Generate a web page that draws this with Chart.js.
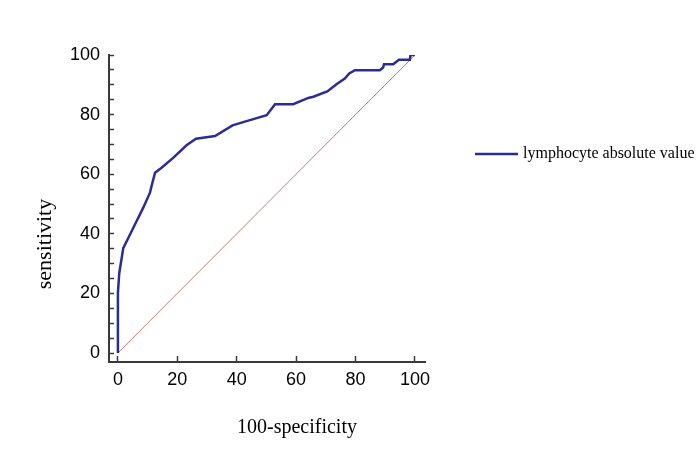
<!DOCTYPE html>
<html>
<head>
<meta charset="utf-8">
<script src="https://cdn.jsdelivr.net/npm/chart.js@4.4.1/dist/chart.umd.min.js"></script>
<style>
  html, body { margin: 0; padding: 0; background: #fff; }
  #wrap { width: 700px; height: 467px; }
</style>
</head>
<body>
<div id="wrap"><canvas id="c" width="700" height="467"></canvas></div>
<script>
// ROC curve data (100-specificity, sensitivity)
const fpr = [0, 0, 0.45, 1.8, 3.5, 6.1, 8.5, 10.8, 11.2, 12.5, 14.7, 18.6, 23.1, 26.3, 32.7, 38.6, 43.3, 50.1, 52.9, 59.0, 64.1, 65.8, 70.5, 73.6, 76.4, 77.9, 79.8, 88.2, 89.3, 89.6, 90.8, 92.7, 94.6, 98.3, 98.5, 100];
const tpr = [0, 20.1, 26.8, 35.2, 38.6, 43.9, 48.7, 53.8, 55.5, 60.5, 62.2, 65.5, 69.7, 71.9, 72.8, 76.4, 77.8, 79.8, 83.5, 83.5, 85.6, 86.0, 87.8, 90.2, 92.1, 93.8, 94.9, 94.9, 95.8, 96.9, 96.9, 96.9, 98.4, 98.4, 100, 100];
const refX = [0, 100];
const refY = [0, 100];
const xTicks = [0, 20, 40, 60, 80, 100];
const yTicks = [0, 20, 40, 60, 80, 100];
const seriesName = 'lymphocyte absolute value';
const xTitle = '100-specificity';
const yTitle = 'sensitivity';

const curveColor = '#2C2C96';
const refColor = '#C97A7A';
const axisColor = '#3a3a3a';

const customText = {
  id: 'customText',
  afterDraw(chart) {
    const ctx = chart.ctx;
    ctx.save();
    // legend
    ctx.strokeStyle = curveColor;
    ctx.lineWidth = 2.5;
    ctx.beginPath();
    ctx.moveTo(475, 154);
    ctx.lineTo(518, 154);
    ctx.stroke();
    ctx.fillStyle = '#000';
    ctx.font = '16px "Liberation Serif", "Times New Roman", serif';
    ctx.textBaseline = 'alphabetic';
    ctx.textAlign = 'left';
    ctx.fillText(seriesName, 523, 158);
    // x title
    ctx.font = '20px "Liberation Serif", "Times New Roman", serif';
    ctx.textAlign = 'center';
    ctx.fillText(xTitle, 297, 433);
    // y title
    ctx.translate(51, 244);
    ctx.rotate(-Math.PI / 2);
    ctx.font = '22px "Liberation Serif", "Times New Roman", serif';
    ctx.fillText(yTitle, 0, 0);
    ctx.restore();
  }
};

new Chart(document.getElementById('c'), {
  type: 'scatter',
  data: {
    datasets: [
      {
        label: seriesName,
        data: fpr.map((x, i) => ({ x: x, y: tpr[i] })),
        showLine: true,
        borderColor: curveColor,
        borderWidth: 2.5,
        pointRadius: 0,
        tension: 0,
        order: 1
      },
      {
        label: 'reference',
        data: refX.map((x, i) => ({ x: x, y: refY[i] })),
        showLine: true,
        borderColor: refColor,
        borderWidth: 1,
        pointRadius: 0,
        order: 2
      }
    ]
  },
  options: {
    responsive: false,
    animation: false,
    devicePixelRatio: 1,
    layout: { padding: { top: 55, right: 275, bottom: 0, left: 0 } },
    plugins: { legend: { display: false }, tooltip: { enabled: false } },
    scales: {
      x: {
        type: 'linear',
        min: -3,
        max: 103.4,
        afterFit(s) { s.height = 105; },
        afterBuildTicks(s) { s.ticks = xTicks.map(v => ({ value: v })); },
        border: { color: axisColor, width: 2 },
        grid: { drawOnChartArea: false, drawTicks: true, tickLength: -6, tickColor: axisColor, tickWidth: 1.5 },
        ticks: {
          stepSize: 20, includeBounds: false, padding: 13, color: '#000',
          font: { family: '"Liberation Sans", Arial, sans-serif', size: 18 },
          maxRotation: 0, autoSkip: false
        }
      },
      y: {
        type: 'linear',
        min: -3,
        max: 100,
        afterFit(s) { s.width = 109; },
        border: { color: axisColor, width: 2 },
        grid: { drawOnChartArea: false, drawTicks: true, tickLength: -5, tickColor: axisColor, tickWidth: 1.5 },
        ticks: {
          stepSize: 5, includeBounds: false, padding: 14, color: '#000',
          autoSkip: false,
          font: { family: '"Liberation Sans", Arial, sans-serif', size: 18 },
          callback: (v) => (yTicks.includes(v) ? String(v) : '')
        }
      }
    }
  },
  plugins: [customText]
});
</script>
</body>
</html>
